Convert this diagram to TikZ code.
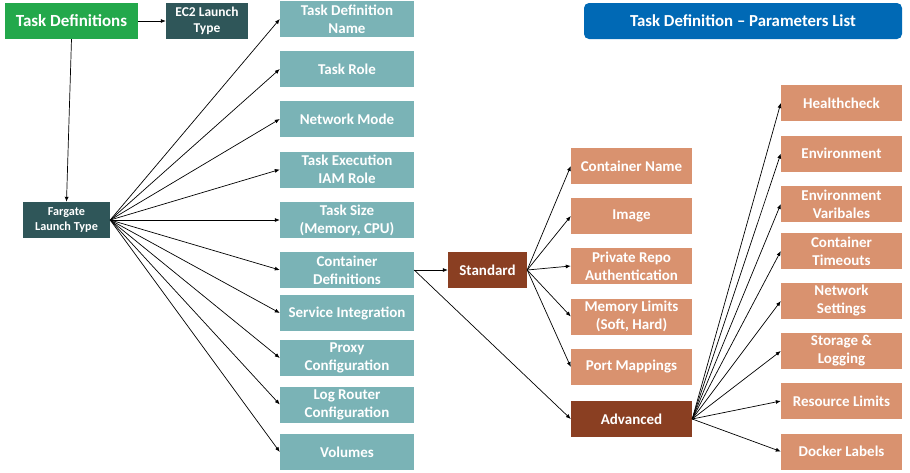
\documentclass[tikz,border=0pt]{standalone}
\usepackage{fontspec}
\setmainfont{Carlito}
\usepackage{tikz}
\usetikzlibrary{arrows.meta}

\definecolor{tdgreen}{HTML}{23A84B}
\definecolor{launchteal}{HTML}{2F5659}
\definecolor{paramteal}{HTML}{7AB3B6}
\definecolor{stdbrown}{HTML}{8A3F22}
\definecolor{paramorange}{HTML}{D9926F}
\definecolor{titleblue}{HTML}{0069B5}

\tikzset{
  pbox/.style={text=white, inner sep=0pt, align=center, minimum height=36pt, font=\bfseries\fontsize{15}{18}\selectfont},
  tealbox/.style={pbox, fill=paramteal, minimum width=134pt},
  orangebox/.style={pbox, fill=paramorange, minimum width=121pt},
  launchbox/.style={pbox, fill=launchteal, font=\bfseries\fontsize{13.5}{16}\selectfont},
  arr/.style={-{Latex[length=5pt,width=4pt]}, line width=0.7pt}
}

\begin{document}
\begin{tikzpicture}[x=1pt,y=-1pt]
\useasboundingbox (0,0) rectangle (910,472);

% top left
\node[pbox, fill=tdgreen, minimum width=133pt, font=\bfseries\fontsize{17}{20}\selectfont] (tdef) at (71.5,21) {Task Definitions};
\node[launchbox, minimum width=82pt] (ec2) at (207,21) {EC2 Launch\\Type};
\node[launchbox, minimum width=87pt, font=\bfseries\fontsize{12.2}{15}\selectfont] (farg) at (66.5,220) {Fargate\\Launch Type};
\draw[arr] (tdef.east) -- (ec2.west);
\draw[arr] (tdef.south) -- (farg.north);

% title
\node[pbox, fill=titleblue, rounded corners=5pt, minimum width=318pt, font=\bfseries\fontsize{16.8}{20}\selectfont] (title) at (743,21) {Task Definition -- Parameters List};

% task parameters
\node[tealbox] (tdname) at (347,19) {Task Definition\\Name};
\node[tealbox] (trole) at (347,69) {Task Role};
\node[tealbox] (netmode) at (347,119) {Network Mode};
\node[tealbox] (execrole) at (347,169.5) {Task Execution\\IAM Role};
\node[tealbox] (tsize) at (347,220) {Task Size\\(Memory, CPU)};
\node[tealbox] (contdef) at (347,270) {Container\\Definitions};
\node[tealbox] (svcint) at (347,313) {Service Integration};
\node[tealbox] (proxy) at (347,358) {Proxy\\Configuration};
\node[tealbox] (logrouter) at (347,404.5) {Log Router\\Configuration};
\node[tealbox] (volumes) at (347,452) {Volumes};

\foreach \p in {tdname,trole,netmode,execrole,tsize,contdef,svcint,proxy,logrouter,volumes}
  \draw[arr] (farg.east) -- (\p.west);

% container definitions
\node[pbox, fill=stdbrown, minimum width=79pt] (std) at (487.5,270) {Standard};
\node[orangebox, fill=stdbrown] (adv) at (631.5,419) {Advanced};
\draw[arr] (contdef.east) -- (std.west);
\draw[arr] (contdef.east) -- (adv.west);

\node[orangebox] (cname) at (631.5,166) {Container Name};
\node[orangebox] (image) at (631.5,216) {Image};
\node[orangebox] (repoauth) at (631.5,266) {Private Repo\\Authentication};
\node[orangebox] (memlim) at (631.5,316.5) {Memory Limits\\(Soft, Hard)};
\node[orangebox] (ports) at (631.5,367) {Port Mappings};

\foreach \p in {cname,image,repoauth,memlim,ports}
  \draw[arr] (std.east) -- (\p.west);

% advanced
\node[orangebox] (health) at (841.5,103) {Healthcheck};
\node[orangebox] (env) at (841.5,153.5) {Environment};
\node[orangebox] (envvar) at (841.5,204) {Environment\\Varibales};
\node[orangebox] (timeouts) at (841.5,251) {Container\\Timeouts};
\node[orangebox] (netset) at (841.5,301) {Network\\Settings};
\node[orangebox] (storage) at (841.5,351) {Storage \&\\Logging};
\node[orangebox] (reslim) at (841.5,401) {Resource Limits};
\node[orangebox] (labels) at (841.5,451.5) {Docker Labels};

\foreach \p in {health,env,envvar,timeouts,netset,storage,reslim,labels}
  \draw[arr] (adv.east) -- (\p.west);
\end{tikzpicture}
\end{document}
